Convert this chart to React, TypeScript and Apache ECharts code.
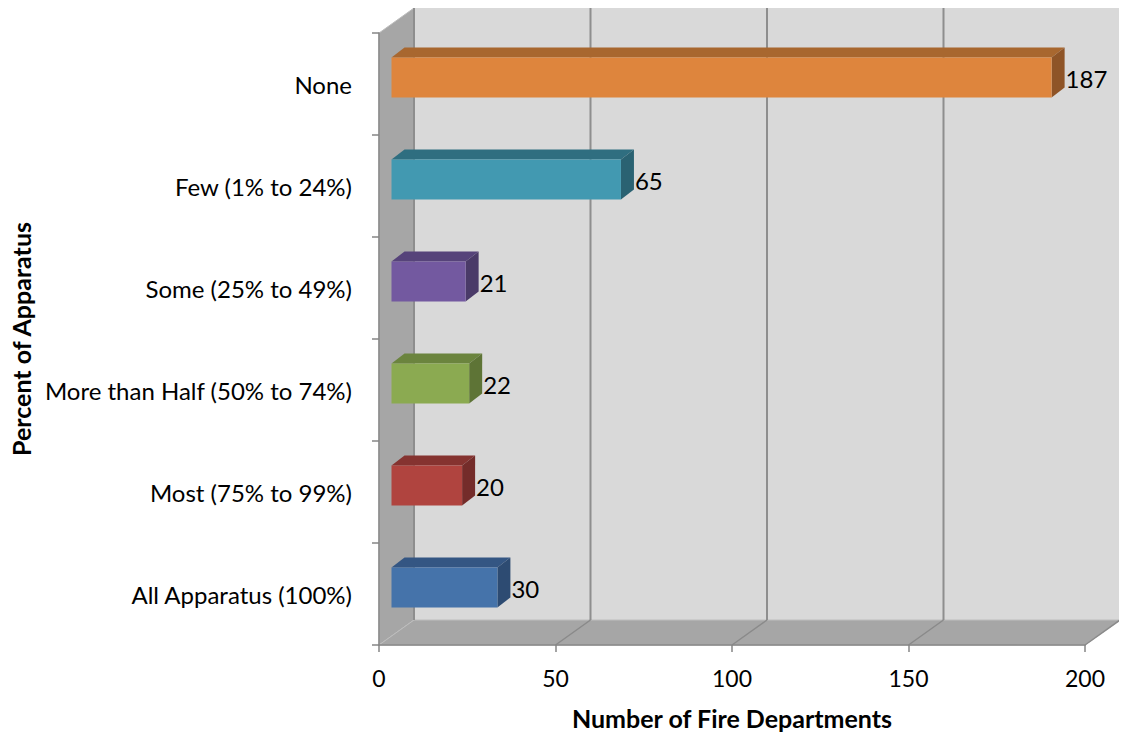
import React, { useEffect, useRef } from "react";
import * as echarts from "echarts";

const categories = [
  "All Apparatus (100%)",
  "Most (75% to 99%)",
  "More than Half (50% to 74%)",
  "Some (25% to 49%)",
  "Few (1% to 24%)",
  "None",
];
const values = [30, 20, 22, 21, 65, 187];
const frontColors = ["#4573AA", "#B0443F", "#8BAA51", "#7359A0", "#4299B1", "#DE853D"];
const topColors = ["#345683", "#853330", "#6B843E", "#56437A", "#2F6E80", "#A8672F"];
const sideColors = ["#2D4B72", "#742C2A", "#5E7436", "#4A3A68", "#2A6272", "#8E5427"];
const xTicks = [0, 50, 100, 150, 200];

const FONT = "Lato";

export default function App() {
  const ref = useRef<HTMLDivElement>(null);
  useEffect(() => {
    if (!ref.current) return;
    const chart = echarts.init(ref.current, undefined, { renderer: "svg" });
    const DX = 35;
    const DY = -25;
    const option: any = {
      animation: false,
      backgroundColor: "#ffffff",
      grid: { left: 379, right: 42, top: 33, bottom: 95, containLabel: false },
      xAxis: {
        type: "value",
        min: 0,
        max: 200,
        interval: 50,
        z: 5,
        splitLine: { show: false },
        axisLine: { show: true, lineStyle: { color: "#868686", width: 1.5 } },
        axisTick: { show: true, length: 7, lineStyle: { color: "#868686", width: 1.5 } },
        axisLabel: { fontSize: 23, color: "#000", fontFamily: FONT, margin: 21 },
        name: "Number of Fire Departments",
        nameLocation: "middle",
        nameGap: 60,
        nameTextStyle: { fontSize: 25, fontWeight: "bold", color: "#000", fontFamily: FONT },
      },
      yAxis: {
        type: "category",
        data: categories,
        z: 5,
        axisLine: { show: true, lineStyle: { color: "#868686", width: 1.5 } },
        axisTick: { show: true, length: 7, lineStyle: { color: "#868686", width: 1.5 } },
        axisLabel: { fontSize: 24, color: "#000", fontFamily: FONT, margin: 27, padding: [8, 0, 0, 0] },
        name: "Percent of Apparatus",
        nameLocation: "middle",
        nameGap: 346,
        nameTextStyle: { fontSize: 25, fontWeight: "bold", color: "#000", fontFamily: FONT },
      },
      series: [
        {
          type: "custom",
          z: 1,
          silent: true,
          data: [[0, 0]],
          encode: { x: 0, y: 1 },
          renderItem: (params: any, api: any) => {
            const cs = params.coordSys;
            const x0 = cs.x, y0 = cs.y, x1 = cs.x + cs.width, y1 = cs.y + cs.height;
            const children: any[] = [];
            children.push({
              type: "rect",
              shape: { x: x0 + DX, y: y0 + DY, width: x1 - x0, height: y1 - y0 },
              style: { fill: "#D9D9D9" },
            });
            children.push({
              type: "polygon",
              shape: { points: [[x0, y0], [x0 + DX, y0 + DY], [x0 + DX, y1 + DY], [x0, y1]] },
              style: { fill: "#A6A6A6", stroke: "#BDBDBD", lineWidth: 1 },
            });
            children.push({
              type: "polygon",
              shape: { points: [[x0, y1], [x0 + DX, y1 + DY], [x1 + DX, y1 + DY], [x1, y1]] },
              style: { fill: "#A6A6A6", stroke: "#BDBDBD", lineWidth: 1 },
            });
            xTicks.forEach((t) => {
              const px = api.coord([t, 0])[0];
              children.push({
                type: "line",
                shape: { x1: px + DX, y1: y0 + DY - 1, x2: px + DX, y2: y1 + DY },
                style: { stroke: "#8E8E8E", lineWidth: 2 },
              });
              if (t > 0) {
                children.push({
                  type: "line",
                  shape: { x1: px, y1: y1, x2: px + DX, y2: y1 + DY },
                  style: { stroke: "#8A8A8A", lineWidth: 1.5 },
                });
              }
            });
            return { type: "group", children };
          },
        },
        {
          type: "custom",
          z: 6,
          data: values.map((v, i) => [v, i]),
          encode: { x: 0, y: 1 },
          renderItem: (params: any, api: any) => {
            const v = api.value(0);
            const idx = api.value(1);
            const p0 = api.coord([0, idx]);
            const p1 = api.coord([v, idx]);
            const ox = 12.5, oy = -6.5, hh = 20, dx = 13, dy = -10;
            const xl = p0[0] + ox;
            const xr = p1[0] + ox;
            const cy = p0[1] + oy;
            const yt = cy - hh;
            const yb = cy + hh;
            return {
              type: "group",
              children: [
                {
                  type: "polygon",
                  shape: { points: [[xl, yt], [xl + dx, yt + dy], [xr + dx, yt + dy], [xr, yt]] },
                  style: { fill: topColors[idx] },
                },
                {
                  type: "polygon",
                  shape: { points: [[xr, yt], [xr + dx, yt + dy], [xr + dx, yb + dy], [xr, yb]] },
                  style: { fill: sideColors[idx] },
                },
                {
                  type: "rect",
                  shape: { x: xl, y: yt, width: xr - xl, height: yb - yt },
                  style: { fill: frontColors[idx] },
                },
                {
                  type: "text",
                  style: {
                    text: String(v),
                    x: xr + dx + 1,
                    y: cy + 1,
                    fill: "#000",
                    font: `24px ${FONT}`,
                    fontSize: 24,
                    fontFamily: FONT,
                    textAlign: "left",
                    textVerticalAlign: "middle",
                    verticalAlign: "middle",
                  },
                },
              ],
            };
          },
        },
      ],
    };
    chart.setOption(option);
    return () => chart.dispose();
  }, []);
  return <div ref={ref} style={{ width: 1127, height: 740, margin: -8 }} />;
}
